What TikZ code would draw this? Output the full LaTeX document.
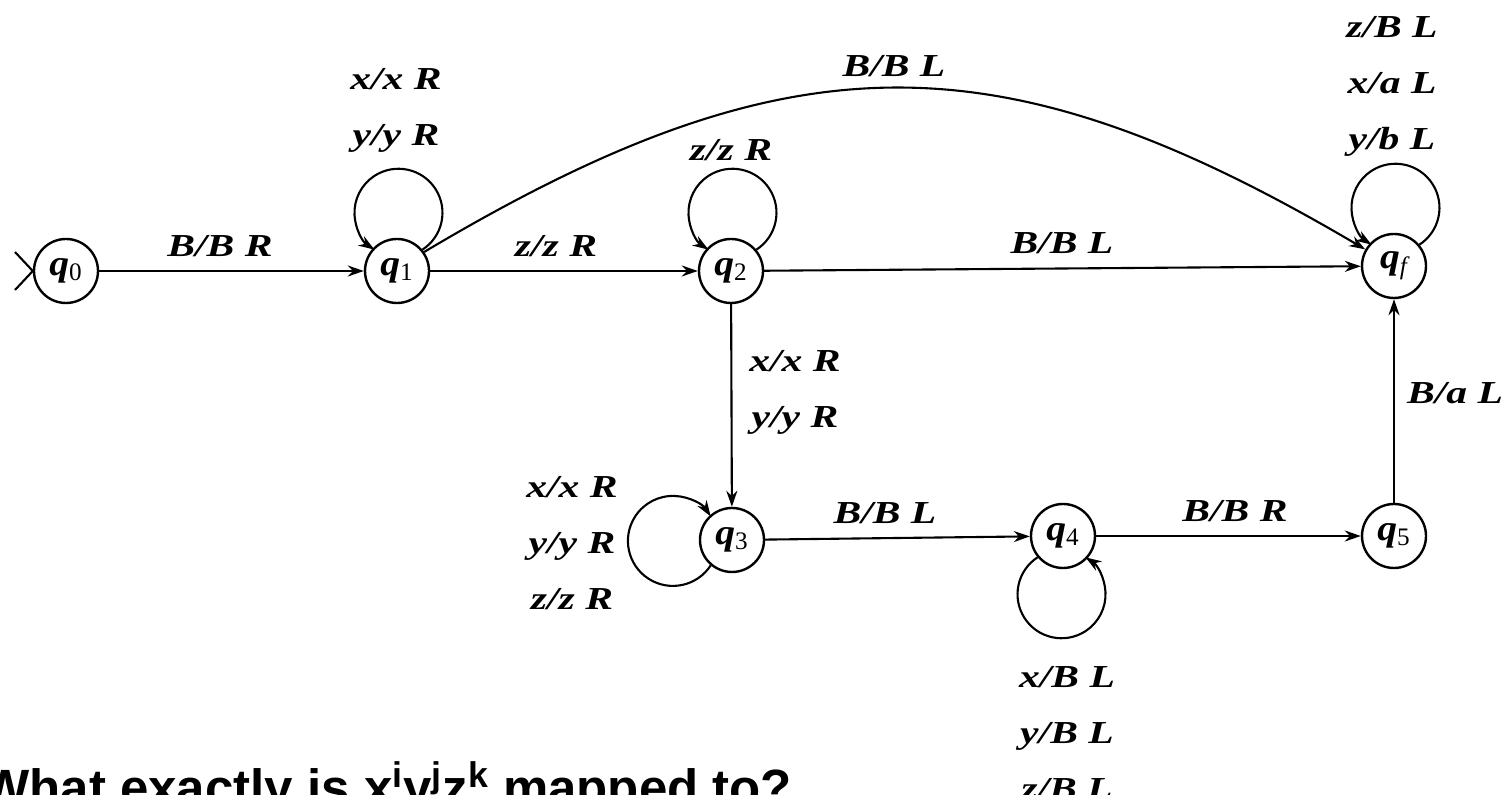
\documentclass[tikz,border=0pt]{standalone}
\usepackage{fontspec}
\setmainfont{Liberation Serif}
\newfontfamily\qsans{Liberation Sans}
\newfontfamily\lblfont[FakeStretch=1.3]{Liberation Serif}
\newfontfamily\stfont[FakeStretch=1.1]{Liberation Serif}
\usetikzlibrary{arrows.meta}
\begin{document}
\begin{tikzpicture}[x=0.5pt,y=0.5pt,
  state/.style={circle,draw,line width=1.2pt,minimum size=32pt,inner sep=0pt,
    font=\stfont\fontsize{18}{18}\selectfont\bfseries\itshape},
  edge/.style={line width=1.05pt,-{Stealth[length=8pt,width=5.5pt]}},
  lbl/.style={font=\lblfont\fontsize{16}{28}\selectfont\bfseries\itshape,align=center,inner sep=0pt}]
\useasboundingbox (0,0) rectangle (1506,-795);
\clip (0,0) rectangle (1506,-795);
% states
\node[state] (q0) at (66,-271) {q\textsubscript{\normalfont 0}};
\node[state] (q1) at (397,-271) {q\textsubscript{\normalfont 1}};
\node[state] (q2) at (731,-271) {q\textsubscript{\normalfont 2}};
\node[state] (qf) at (1394,-266) {q\textsubscript{\normalfont\itshape f}};
\node[state] (q3) at (732,-540) {q\textsubscript{\normalfont 3}};
\node[state] (q4) at (1063,-536) {q\textsubscript{\normalfont 4}};
\node[state] (q5) at (1394,-536) {q\textsubscript{\normalfont 5}};
% start marker
\coordinate (s1) at (15,-252);
\coordinate (s2) at (15,-290);
\draw[line width=1.05pt] (s1) -- (q0.west);
\draw[line width=1.05pt] (s2) -- (q0.west);
% edges
\draw[edge] (q0) -- (q1);
\draw[edge] (q1) -- (q2);
\draw[edge] (q2) -- (qf);
\draw[edge] (q2) -- (q3);
\draw[edge] (q3) -- (q4);
\draw[edge] (q4) -- (q5);
\draw[edge] (q5) -- (qf);
\draw[edge] (q1.35) .. controls (790,-34) and (1000,-34) .. (qf.150);
% loops
\draw[edge] (q1.40) arc[start angle=-57, end angle=237, radius=44];
\draw[edge] (q2.40) arc[start angle=-57, end angle=237, radius=44];
\draw[edge] (qf.40) arc[start angle=-57, end angle=237, radius=44];
\draw[edge] (q3.230) arc[start angle=327, end angle=33, radius=45];
\draw[edge] (q4.220) arc[start angle=123, end angle=417, radius=44];
% labels
\node[lbl] (l01) at (220,-246) {B/B R};
\node[lbl] (l11) at (396,-110) {x/x R\\y/y R};
\node[lbl] (l1f) at (894,-66) {B/B L};
\node[lbl] (l12) at (556,-246) {z/z R};
\node[lbl] (l22) at (731,-150) {z/z R};
\node[lbl] (l2f) at (1062,-243) {B/B L};
\node[lbl] (lff) at (1392,-86) {z/B L\\x/a L\\y/b L};
\node[lbl] (l23) at (795,-392) {x/x R\\y/y R};
\node[lbl] (l33) at (572,-543) {x/x R\\y/y R\\z/z R};
\node[lbl] (l34) at (885,-513) {B/B L};
\node[lbl] (l45) at (1235,-511) {B/B R};
\node[lbl] (l5f) at (1455,-393) {B/a L};
\node[lbl] (l44) at (1067,-733) {x/B L\\y/B L\\z/B L};
% question
\node[anchor=base west,inner sep=0pt,font=\qsans\fontsize{25.5}{25.5}\selectfont\bfseries] (ques) at (-19,-806)
  {What exactly is x\textsuperscript{i}y\textsuperscript{j}z\textsuperscript{k} mapped to?};
\end{tikzpicture}
\end{document}
